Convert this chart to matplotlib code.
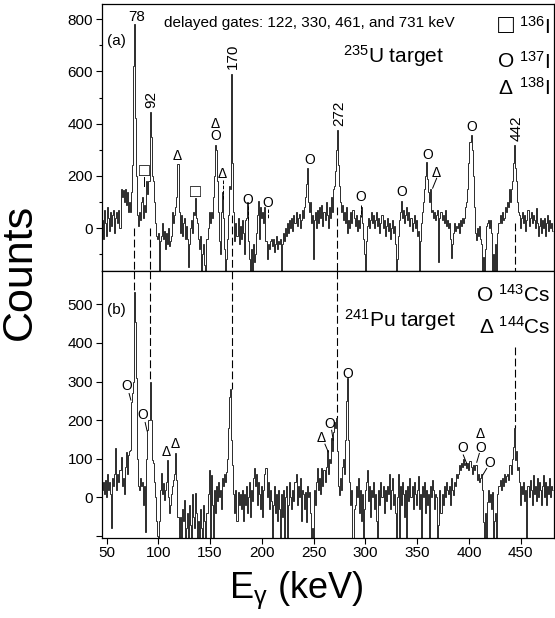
"""Gated gamma spectra for 235U and 241Pu targets (two stacked panels)."""
import matplotlib

matplotlib.use("Agg")
import matplotlib.pyplot as plt
import numpy as np

plt.rcParams["font.family"] = ["Liberation Sans", "DejaVu Sans"]
plt.rcParams["mathtext.fontset"] = "custom"
plt.rcParams["mathtext.rm"] = "Liberation Sans"
plt.rcParams["mathtext.it"] = "Liberation Sans:italic"

E_FIRST = 45  # keV of the first 1-keV bin

# panel (a): 235U target, counts per 1 keV bin from 45 keV
COUNTS_U = [
    88, 30, -40, 70, 20,
    -30, 80, 40, -10, 60, 10, 50, 70, -20, 40,
    60, 20, 70, 0, 150, 120, 145, 100, 150, 90,
    140, 60, 100, 60, 140, 240, 620, 780, 420, 200,
    50, 10, 60, 30, 100, 120, 40, 90, 60, 180,
    130, 180, 445, 350, 200, 180, 100, 20, -30, -40,
    -20, -170, -50, -30, 20, -40, -10, -80, -20, -60,
    0, -70, -50, -30, 60, 20, 50, 80, 120, 245,
    60, -20, 50, -30, 20, 40, -40, 10, -40, -150,
    -60, 0, 30, -20, 60, 50, 115, 40, 20, -40,
    -80, -30, -170, -100, -60, -140, -170, -40, 0, 60,
    20, 60, 40, 120, 200, 320, 300, 180, 60, -50,
    -100, 60, 140, 40, -80, -170, -120, -40, 50, 160,
    150, 590, 250, 60, -50, 20, -30, 40, -60, 10,
    -40, 30, -20, -100, 30, 40, 100, -50, -120, -170,
    -80, -170, -60, -130, -100, -20, 50, 105, -40, 80,
    40, 60, 20, 80, -50, -120, -60, -80, -50, -40,
    -70, -40, -90, -60, -30, -80, -50, -60, -40, -170,
    -60, -20, -50, 0, -30, 20, -20, 30, 0, 40,
    -10, 50, 20, 60, 10, 40, 55, 0, 30, 70,
    40, 80, 120, 170, 230, 100, 60, 100, 20, 50,
    -120, 30, 60, 0, 70, 20, 80, 40, 90, 10,
    60, 30, 100, 50, 0, 80, 40, 120, 60, 150,
    160, 220, 300, 375, 240, 160, 100, 60, 90, 30,
    60, 20, 80, -20, 30, 0, 60, 20, 70, 40,
    10, 50, -10, 30, 0, 50, 80, 20, -40, -100,
    -170, -50, 10, 40, 0, 30, 60, 20, 50, 0,
    30, 60, 10, 40, -20, 20, 50, 0, 30, -30,
    10, 40, -10, 20, -40, 0, 30, -20, 10, -60,
    -170, -120, -30, 30, 60, 105, 40, 70, 20, 50,
    80, 30, 60, 10, 40, -10, 20, 50, 0, 30,
    -30, -10, -170, -50, 20, 60, 100, 150, 200, 255,
    190, 140, 100, 150, 60, 70, 40, 60, 30, 50,
    70, -130, 40, 60, 30, 50, 20, 70, 10, 30,
    0, 20, -40, -115, -60, -18, 20, -10, 10, 0,
    20, -20, 30, 10, 40, 20, 40, 80, 100, 150,
    250, 330, 357, 300, 200, 80, -20, -45, 0, -30,
    10, -40, -60, -170, -110, -170, -80, 10, 20, 32,
    0, 30, -20, -170, -100, -170, -60, -170, -20, 20,
    50, 20, 60, 30, 40, 80, 60, 100, 80, 150,
    100, 150, 180, 250, 319, 230, 180, 100, 60, 50,
    0, 40, 60, 20, 50, -10, 30, 70, 10, 40,
    60, 20, 50, 30, 0, 78, 20, -30, 10, 40,
    -20, 30, 0, 40, -30, 20, 50, -10, 30, 0,
    20, -10,
]

# panel (b): 241Pu target, counts per 1 keV bin from 45 keV
COUNTS_PU = [
    -30, 20, 40, 10, 45,
    0, 60, 20, 40, 10, -80, 50, 30, 60, 127,
    20, 60, 40, 70, 105, 30, 50, 10, 80, 118,
    60, 110, 120, 122, 248, 270, 300, 532, 455, 309,
    100, 30, 20, 50, 30, 40, -20, 30, -89, 100,
    175, 200, 300, 200, 97, 90, 40, 0, -60, -100,
    -110, -60, 20, 63, 10, 37, -7, 20, 40, 97,
    0, -41, -20, 10, 30, 45, 60, 115, 45, -50,
    -110, -50, -110, -30, -60, -7, -110, -80, -40, -110,
    -20, -70, -110, 10, -50, -80, 12, -40, -110, -60,
    -110, -30, -80, -110, -20, -60, -110, -40, 10, 71,
    -110, 58, -20, -110, 20, -40, 30, -10, 40, 0,
    20, -30, 50, 30, 60, 40, 66, 100, 180, 260,
    282, 150, 84, 10, -40, 20, -60, 15, -20, 10,
    -30, 20, -60, 10, -20, 30, -40, 0, 40, -50,
    20, -10, 50, 77, 30, 60, -20, 40, 10, -30,
    30, -50, 20, 60, 77, 0, 40, -30, 20, -10,
    -110, -20, 30, -40, 10, -60, 20, -30, -110, 10,
    -50, 20, -110, 0, 30, -110, -20, 40, 0, -30,
    20, -10, 40, 60, -20, 30, 0, 50, -60, 20,
    10, -30, 15, -63, 30, 0, 15, -40, -110, -80,
    -110, 20, -20, 40, 75, 20, 50, 10, 76, 30,
    70, 40, 80, 122, 60, 100, 90, 153, 120, 170,
    195, 180, 205, 120, 30, 6, 50, 20, 80, 100,
    60, 150, 250, 310, 150, 40, -20, 20, -110, -30,
    -20, 30, 0, 50, -40, 20, -60, 10, -110, -30,
    20, 40, 70, -10, 30, -50, 20, 0, 40, -30,
    10, -60, -110, 20, -20, 40, 0, 30, -40, 20,
    -10, 30, 10, 60, -30, 20, 50, -20, 10, -40,
    -110, 0, 60, -110, 30, -20, 40, 10, -50, 20,
    -110, 30, -10, 50, 0, 30, -30, 40, 10, -20,
    20, 55, -30, 10, -110, 30, 0, 40, -40, 20,
    -20, 10, -110, 30, 0, 45, 20, -30, 10, 0,
    -110, -70, 20, -40, 10, -20, 30, 0, 40, 20,
    10, 30, -20, 50, 20, 6, 40, 30, 60, 50,
    60, 84, 70, 90, 80, 100, 84, 90, 75, 90,
    70, 95, 80, 60, 84, 70, 84, 85, 45, 60,
    40, 50, 60, 20, -63, -110, -40, -110, -11, 20,
    -11, 10, -30, 15, -110, -60, -40, -110, 10, 30,
    45, 20, 50, 30, 60, 40, 55, 60, 45, 84,
    84, 60, 100, 130, 181, 98, 120, 70, 80, 40,
    -20, 30, 10, 40, -10, 20, -110, 30, 0, 45,
    20, -20, 58, 10, 30, -10, 50, 0, 40, 20,
    -20, 30, 58, 0, 40, -20, 30, 10, 50, 0,
    30, 20,
]

# common lines (dashed guides) and where they stop in each panel
GUIDE_E = [77, 92, 171, 273, 444]
GUIDE_LABELS = ["78", "92", "170", "272", "442"]
GUIDE_TOP_U = [0, 0, 50, 80, 20]
GUIDE_BOTTOM_PU = [532, 300, 282, 205, 181]
GUIDE_TOP_PU = [586, 586, 586, 586, 389]

# peak marks: (energy, counts, symbol)
MARKS_U = [
    (86.3, 217, "□"), (118.6, 277, "Δ"), (136.0, 138, "□"),
    (155.3, 351, "O"), (155.3, 399, "Δ"), (162.0, 208, "Δ"),
    (186.8, 108, "O"), (205.6, 98, "O"), (245.8, 262, "O"),
    (295.7, 121, "O"), (335.0, 140, "O"), (360.0, 281, "O"),
    (368.8, 213, "Δ"), (402.6, 389, "O"),
]
MARKS_PU = [
    (70.0, 289, "O"), (84.8, 213, "O"), (108.0, 118, "Δ"),
    (116.7, 138, "Δ"), (257.7, 155, "Δ"), (265.7, 190, "O"),
    (282.8, 319, "O"), (393.6, 127, "O"), (411.0, 163, "Δ"),
    (411.0, 128, "O"), (420.0, 89, "O"),
]
# short leader lines from marks to peaks: (e0, c0, e1, c1, style)
LEADERS_U = [
    (86.5, 195, 86.5, 160, "-"), (162.0, 185, 162.0, 108, "--"),
    (186.8, 83, 186.8, 32, "--"), (205.6, 75, 205.6, 35, "--"),
    (295.7, 89, 295.7, 44, "--"), (368.8, 191, 364.9, 153, "-"),
]
LEADERS_PU = [
    (71.8, 269, 73.5, 252), (87.3, 194, 89.2, 172),
    (260.9, 138, 264.1, 118), (267.4, 174, 268.9, 148),
    (394.5, 110, 397.8, 88), (410.0, 114, 407.5, 91),
    (417.1, 75, 413.3, 58),
]

XLIM = (45.2, 482)
YLIM_U = (-164, 858)
YLIM_PU = (-105, 586)


def spectrum(ax, counts):
    edges = np.arange(len(counts) + 1) + E_FIRST - 0.5
    ax.stairs(counts, edges, baseline=None, color="#2b2b2b", lw=0.7)


def marks(ax, items):
    for energy, value, symbol in items:
        # the box glyph is drawn small, so give it a larger size
        size = 13 if symbol == "□" else 10
        ax.text(energy, value, symbol, ha="center", va="center", fontsize=size)


fig = plt.figure(figsize=(5.55, 6.18), dpi=100)
ax_u = fig.add_axes([0.183, 0.5615, 0.815, 0.432])
ax_p = fig.add_axes([0.183, 0.1294, 0.815, 0.432])

spectrum(ax_u, COUNTS_U)
spectrum(ax_p, COUNTS_PU)

for energy, top_u, top_p, bottom_p in zip(GUIDE_E, GUIDE_TOP_U, GUIDE_TOP_PU, GUIDE_BOTTOM_PU):
    ax_u.plot([energy, energy], [top_u, YLIM_U[0]], color="k", lw=0.8, ls=(0, (7, 3)))
    ax_p.plot([energy, energy], [top_p, bottom_p], color="k", lw=0.8, ls=(0, (7, 3)))

# peak energy labels in panel (a)
ax_u.text(79, 810, GUIDE_LABELS[0], ha="center", va="center", fontsize=11)
for energy, value, label in zip([92.8, 171.7, 274.7, 446.0], [491, 657, 440, 383], GUIDE_LABELS[1:]):
    ax_u.text(energy, value, label, ha="center", va="center", fontsize=11, rotation=90)

marks(ax_u, MARKS_U)
marks(ax_p, MARKS_PU)
for e0, c0, e1, c1, style in LEADERS_U:
    ax_u.plot([e0, e1], [c0, c1], color="k", lw=0.7, ls="--" if style == "--" else "-")
for e0, c0, e1, c1 in LEADERS_PU:
    ax_p.plot([e0, e1], [c0, c1], color="k", lw=0.7)

ax_u.text(59.7, 717, "(a)", ha="center", va="center", fontsize=11)
ax_p.text(59.7, 485, "(b)", ha="center", va="center", fontsize=11)
ax_u.text(245.7, 785, "delayed gates: 122, 330, 461, and 731 keV",
          ha="center", va="center", fontsize=11)
ax_u.text(326.9, 657, "$^{235}$U target", ha="center", va="center", fontsize=15)
ax_p.text(333.4, 459, "$^{241}$Pu target", ha="center", va="center", fontsize=15)

legend_u = [(772, "□", "$^{136}$I"), (638, "O", "$^{137}$I"), (536, "Δ", "$^{138}$I")]
for value, symbol, label in legend_u:
    ax_u.text(478.5, value, label, ha="right", va="center", fontsize=15)
    ax_u.text(435.5, value, symbol, ha="center", va="center",
              fontsize=19 if symbol == "□" else 15)
for value, label in zip([524, 442], ["O $^{143}$Cs", "Δ $^{144}$Cs"]):
    ax_p.text(478.5, value, label, ha="right", va="center", fontsize=15)

for ax in (ax_u, ax_p):
    ax.set_xlim(*XLIM)
    for side in ax.spines.values():
        side.set_linewidth(0.9)
    ax.tick_params(direction="out", length=4, width=0.8, labelsize=11, pad=2)
    ax.tick_params(which="minor", direction="out", length=2.5, width=0.8)

ax_u.set_ylim(*YLIM_U)
ax_u.set_yticks([0, 200, 400, 600, 800])
ax_u.set_yticks([-100, 100, 300, 500, 700], minor=True)
ax_u.set_xticks([])

ax_p.set_ylim(*YLIM_PU)
ax_p.set_yticks([-100, 0, 100, 200, 300, 400, 500])
ax_p.set_yticklabels(["", "0", "100", "200", "300", "400", "500"])
ax_p.set_xticks([50, 100, 150, 200, 250, 300, 350, 400, 450])

fig.text(0.036, 0.56, "Counts", rotation=90, ha="center", va="center", fontsize=31)
fig.text(0.533, 0.045, r"E$_{\mathrm{γ}}$ (keV)", ha="center", va="center", fontsize=26)

fig.savefig("out.png", dpi=100)
